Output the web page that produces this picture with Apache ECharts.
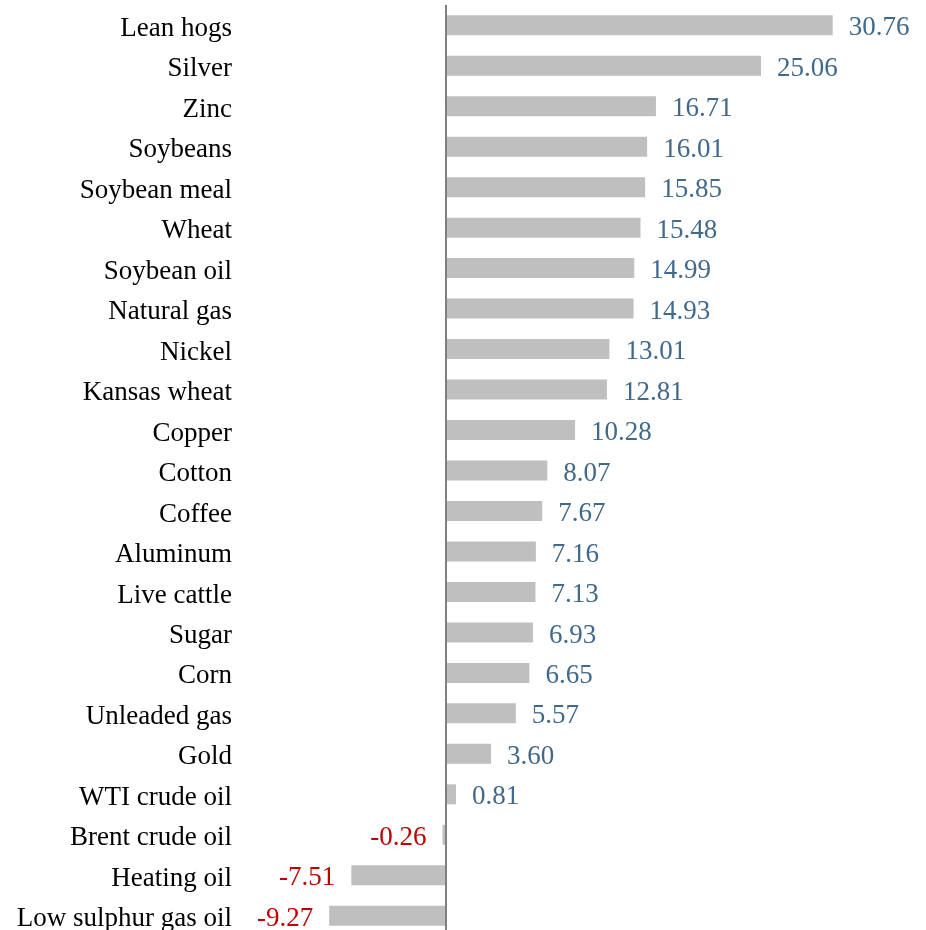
<!DOCTYPE html>
<html>
<head>
<meta charset="utf-8">
<script src="https://cdn.jsdelivr.net/npm/echarts@6/dist/echarts.min.js"></script>
<style>
  html, body { margin: 0; padding: 0; background: #fff; }
  #chart { width: 926px; height: 930px; }
</style>
</head>
<body>
<div id="chart"></div>
<script>
// commodity returns, top to bottom
var categories = [
    'Lean hogs', 'Silver', 'Zinc', 'Soybeans', 'Soybean meal', 'Wheat',
    'Soybean oil', 'Natural gas', 'Nickel', 'Kansas wheat', 'Copper', 'Cotton',
    'Coffee', 'Aluminum', 'Live cattle', 'Sugar', 'Corn', 'Unleaded gas',
    'Gold', 'WTI crude oil', 'Brent crude oil', 'Heating oil', 'Low sulphur gas oil'
];
var values = [
    30.76, 25.06, 16.71, 16.01, 15.85, 15.48,
    14.99, 14.93, 13.01, 12.81, 10.28, 8.07,
    7.67, 7.16, 7.13, 6.93, 6.65, 5.57,
    3.60, 0.81, -0.26, -7.51, -9.27
];

var font = '"Liberation Serif", "DejaVu Serif", serif';

var seriesData = values.map(function (v) {
    var neg = v < 0;
    return {
        value: v,
        label: {
            position: neg ? 'left' : 'right',
            color: neg ? '#c00000' : '#41698a'
        }
    };
});

var chrt = echarts.init(document.getElementById('chart'));
chrt.setOption({
    animation: false,
    grid: { left: 320, top: 5, width: 566, height: 931, outerBoundsMode: 'none', containLabel: false },
    xAxis: {
        type: 'value',
        min: -10,
        max: 35,
        show: false
    },
    yAxis: {
        type: 'category',
        inverse: true,
        data: categories,
        axisLine: { show: false, onZero: false },
        axisTick: { show: false },
        splitLine: { show: false },
        axisLabel: {
            margin: 88,
            formatter: function (name) {
                return '{a|' + name + '}';
            },
            rich: {
                a: {
                    color: '#000',
                    fontFamily: font,
                    fontSize: 27,
                    padding: [7, 0, 0, 0]
                }
            }
        }
    },
    series: [{
        type: 'bar',
        data: seriesData,
        barWidth: 20,
        itemStyle: { color: '#bfbfbf' },
        label: {
            show: true,
            distance: 16,
            offset: [0, 3],
            fontFamily: font,
            fontSize: 27,
            formatter: function (p) {
                return p.value.toFixed(2);
            }
        },
        markLine: {
            silent: true,
            symbol: 'none',
            label: { show: false },
            lineStyle: { color: '#808080', width: 2, type: 'solid' },
            data: [{ xAxis: 0 }]
        }
    }]
});
</script>
</body>
</html>
